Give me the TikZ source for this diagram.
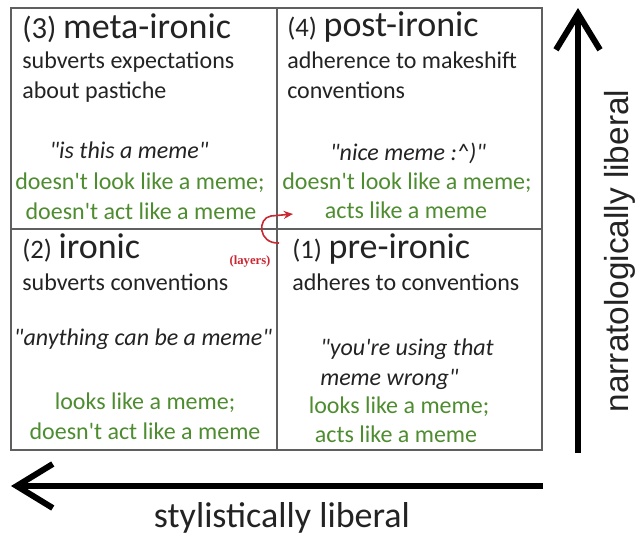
\documentclass[tikz,border=0pt]{standalone}
\usepackage{fontspec}
\setmainfont{Carlito}
\newfontfamily\axisfont{Liberation Sans}
\newfontfamily\layersfont{Liberation Serif}
\usetikzlibrary{arrows.meta}
\definecolor{memegreen}{RGB}{78,140,48}
\definecolor{inkgray}{RGB}{35,35,35}
\definecolor{gridgray}{RGB}{95,95,95}
\definecolor{layersred}{RGB}{200,40,50}
\newcommand{\quadhead}[3][20]{{\fontsize{#1}{24}\selectfont #2}\enspace{\fontsize{27}{32}\selectfont #3}}
\newcommand{\qq}{\textquotedbl}
\newcommand{\ap}{\textquotesingle}

\begin{document}
\begin{tikzpicture}[x=0.75pt,y=-0.75pt,>=Stealth,
    txt/.style={inner sep=0pt,text=inkgray,font=\fontsize{18}{22}\selectfont},
    quote/.style={txt,font=\fontsize{18}{22}\selectfont\itshape},
    meme/.style={txt,text=memegreen},
    quadname/.style={inner sep=0pt,text=inkgray,anchor=base west},
    axisline/.style={line width=4.5pt,-{Straight Barb[length=27pt,width=33pt]}}]
\useasboundingbox (0,0) rectangle (636,536);
% grid
\draw [gridgray,line width=1.3pt] (11,8) rectangle (542,450);
\draw [gridgray,line width=1.3pt] (277,8) -- (277,450);
\draw [gridgray,line width=1.3pt] (11,229) -- (542,229);
% (3) meta-ironic
\node [quadname] (meta) at (22,38) {\quadhead[23]{(3)}{meta-ironic}};
\node [txt,anchor=base west] (metadesc) at (22,68) {subverts expectations};
\node [txt,anchor=base west] (metadesc2) at (22,98) {about pastiche};
\node [quote,anchor=base] (metaquote) at (129,158) {\qq is this a meme\qq};
\node [meme,anchor=base] (metalook) at (140,189) {doesn\ap t look like a meme;};
\node [meme,anchor=base] (metaact) at (141,219) {doesn\ap t act like a meme};
% (4) post-ironic
\node [quadname] (post) at (287,36) {\quadhead{(4)}{post-ironic}};
\node [txt,anchor=base west] (postdesc) at (287,68) {adherence to makeshift};
\node [txt,anchor=base west] (postdesc2) at (287,98) {conventions};
\node [quote,anchor=base] (postquote) at (408,160) {\qq nice meme :\textasciicircum)\qq};
\node [meme,anchor=base] (postlook) at (407,189) {doesn\ap t look like a meme;};
\node [meme,anchor=base] (postact) at (406,218) {acts like a meme};
% (2) ironic
\node [quadname] (iron) at (22,258) {\quadhead{(2)}{ironic}};
\node [txt,anchor=base west] (irondesc) at (22,290) {subverts conventions};
\node [quote,anchor=base] (ironquote) at (143,345) {\qq anything can be a meme\qq};
\node [meme,anchor=base] (ironlook) at (145,409) {looks like a meme;};
\node [meme,anchor=base] (ironact) at (145,439) {doesn\ap t act like a meme};
% (1) pre-ironic
\node [quadname] (pre) at (292,258) {\quadhead{(1)}{pre-ironic}};
\node [txt,anchor=base west] (predesc) at (292,290) {adheres to conventions};
\node [quote,anchor=base west] (prequote) at (320,355) {\qq you\ap re using that};
\node [quote,anchor=base west] (prequote2) at (320,385) {meme wrong\qq};
\node [meme,anchor=base] (prelook) at (399,413) {looks like a meme;};
\node [meme,anchor=base] (preact) at (396,442) {acts like a meme};
% layers
\coordinate (layersfrom) at (279,243);
\coordinate (layersto) at (293,214);
\draw [layersred,line width=1.2pt,-{Stealth[length=7pt,width=6pt]}] (layersfrom) .. controls (258,244) and (257,218) .. (271,216) -- (layersto);
\node [text=layersred,inner sep=0pt,font=\layersfont\bfseries\fontsize{9.5}{11}\selectfont] (layerslbl) at (250,261) {(layers)};
% axes
\coordinate (ybot) at (578,453);
\coordinate (ytop) at (578,8);
\draw [axisline] (ybot) -- (ytop);
\node [rotate=90,anchor=base,inner sep=0pt,text=inkgray,font=\axisfont\fontsize{25}{30}\selectfont] (narrlbl) at (628,251) {narratologically liberal};
\coordinate (xright) at (543,486);
\coordinate (xleft) at (11,486);
\draw [axisline] (xright) -- (xleft);
\node [anchor=base,inner sep=0pt,text=inkgray,font=\fontsize{27}{32}\selectfont] (stylbl) at (282,527) {stylistically liberal};
\end{tikzpicture}
\end{document}
